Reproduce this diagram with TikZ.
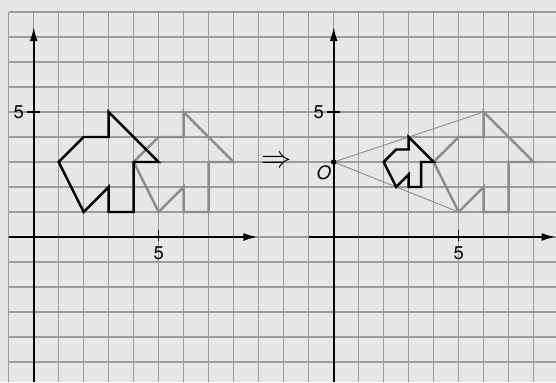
\documentclass[tikz,border=0pt]{standalone}
\usepackage{fontspec}
\setmainfont{TeX Gyre Heros}
\usetikzlibrary{arrows.meta}
\definecolor{paper}{HTML}{E6E7E8}
\definecolor{gridgray}{HTML}{9C9C9C}
\definecolor{figgray}{HTML}{8C8C8C}
\tikzstyle{gridline}=[draw=gridgray, line width=0.75pt]
\tikzstyle{axis}=[draw=black, line width=1pt, -{Latex[length=8pt,width=4.5pt]}]
\tikzstyle{tick}=[draw=black, line width=0.7pt]
\tikzstyle{figblack}=[draw=black, line width=1.4pt, line join=miter]
\tikzstyle{figgrey}=[draw=figgray, line width=1.4pt, line join=miter]
\tikzstyle{ray}=[draw=figgray, line width=0.5pt]
\tikzstyle{lab}=[inner sep=0pt, font=\fontsize{10.5}{12}\selectfont]

\begin{document}
\begin{tikzpicture}[x=0.5cm,y=0.5cm]
	% paper and grid
	\fill[paper] (-1.348,-5.8) rectangle (20.892,9.48);
	\useasboundingbox (-1.348,-5.8) rectangle (20.892,9.48);
	\draw[style=gridline, step=0.5cm] (-1,-5.8) grid (20.892,9);

	% left panel
	\draw[style=axis] (0,-5.8) -- (0,8.4);
	\draw[style=axis] (-1,0) -- (8.95,0);
	\draw[style=tick] (-0.25,5) -- (0.25,5);
	\draw[style=tick] (5,-0.15) -- (5,0.3);
	\node[style=lab] (ly5) at (-0.6,5) {5};
	\node[style=lab] (lx5) at (5,-0.65) {5};
	\draw[style=figgrey] (4,3) -- (5,4) -- (6,4) -- (6,5) -- (8,3) -- (7,3)
		-- (7,1) -- (6,1) -- (6,2) -- (5,1) -- cycle;
	\draw[style=figblack] (1,3) -- (2,4) -- (3,4) -- (3,5) -- (5,3) -- (4,3)
		-- (4,1) -- (3,1) -- (3,2) -- (2,1) -- cycle;

	\node (impl) at (9.72,3) {\fontsize{19}{19}\selectfont$\Rightarrow$};

	% right panel
	\coordinate (O) at (12,3);
	\coordinate (g1) at (16,3);
	\coordinate (g2) at (17,4);
	\coordinate (g3) at (18,4);
	\coordinate (g4) at (18,5);
	\coordinate (g5) at (20,3);
	\coordinate (g6) at (19,3);
	\coordinate (g7) at (19,1);
	\coordinate (g8) at (18,1);
	\coordinate (g9) at (18,2);
	\coordinate (g10) at (17,1);
	\draw[style=axis] (12,-5.8) -- (12,8.4);
	\draw[style=axis] (11,0) -- (20.88,0);
	\draw[style=tick] (11.75,5) -- (12.25,5);
	\draw[style=tick] (17,-0.15) -- (17,0.3);
	\node[style=lab] (ry5) at (11.4,5) {5};
	\node[style=lab] (rx5) at (17,-0.65) {5};
	\draw[style=ray] (O) -- (g4);
	\draw[style=ray] (O) -- (g10);
	\draw[style=figgrey] (g1) -- (g2) -- (g3) -- (g4) -- (g5) -- (g6)
		-- (g7) -- (g8) -- (g9) -- (g10) -- cycle;
	\draw[style=figblack] (14,3) -- (14.5,3.5) -- (15,3.5) -- (15,4) -- (16,3) -- (15.5,3)
		-- (15.5,2) -- (15,2) -- (15,2.5) -- (14.5,2) -- cycle;
	\fill (O) circle (0.11);
	\node[style=lab] (olab) at (11.6,2.55) {\itshape O};
\end{tikzpicture}
\end{document}
